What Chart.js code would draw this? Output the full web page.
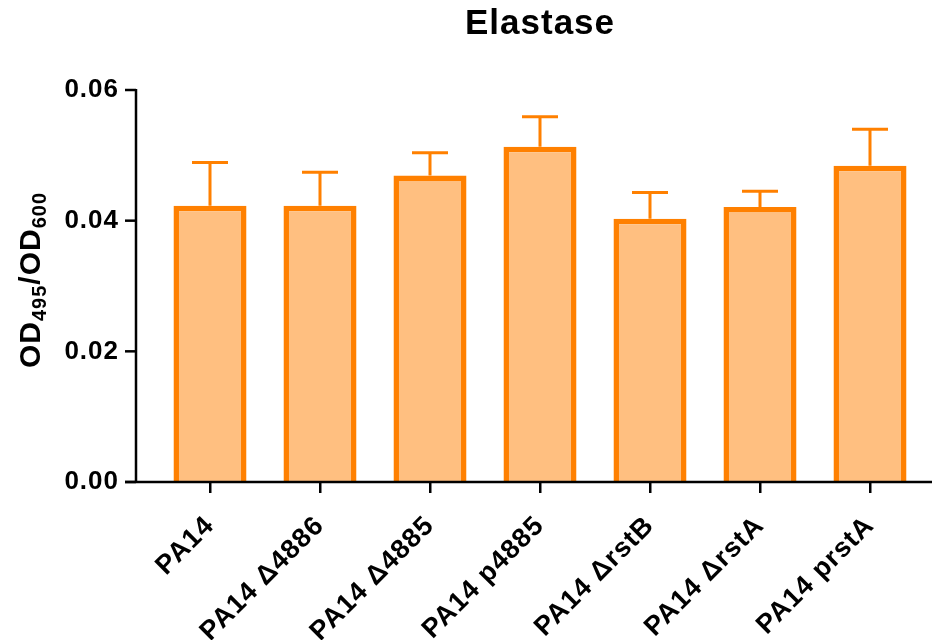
<!DOCTYPE html>
<html>
<head>
<meta charset="utf-8">
<script src="https://cdn.jsdelivr.net/npm/chart.js@4"></script>
<style>
  body { margin: 0; background: #fff; }
  #wrap { width: 934px; height: 640px; }
</style>
</head>
<body>
<div id="wrap"><canvas id="elastaseChart"></canvas></div>
<script>
// data
const strains = ['PA14', 'PA14 Δ4886', 'PA14 Δ4885', 'PA14 p4885', 'PA14 ΔrstB', 'PA14 ΔrstA', 'PA14 prstA'];
const meanOD = [0.0423, 0.0423, 0.0469, 0.0513, 0.0403, 0.0421, 0.0484];
const sdOD = [0.0066, 0.0051, 0.0035, 0.0046, 0.0040, 0.0024, 0.0056];
const yTicks = [0, 0.02, 0.04, 0.06];

const orange = '#FF8000';
const fillOrange = 'rgb(255,191,128)';
const FONT = "'Liberation Sans', Arial, sans-serif";
const SPACING = '1px';

// slight letter spacing like the prism export
const spacingPlugin = {
  id: 'spacing',
  beforeLayout(chart) { chart.ctx.letterSpacing = SPACING; },
  beforeDraw(chart) { chart.ctx.letterSpacing = SPACING; }
};

// axis lines + y tick marks, upper error bars, y title with subscripts
const extrasPlugin = {
  id: 'extras',
  afterDatasetsDraw(chart) {
    const ctx = chart.ctx;
    const y = chart.scales.y;
    const meta = chart.getDatasetMeta(0);
    ctx.save();
    ctx.strokeStyle = orange;
    ctx.lineWidth = 3;
    meta.data.forEach((bar, i) => {
      const top = y.getPixelForValue(meanOD[i] + sdOD[i]);
      ctx.beginPath();
      ctx.moveTo(bar.x, bar.y);
      ctx.lineTo(bar.x, top);
      ctx.moveTo(bar.x - 18, top);
      ctx.lineTo(bar.x + 18, top);
      ctx.stroke();
    });
    ctx.restore();
  },
  afterDraw(chart) {
    const ctx = chart.ctx;
    const y = chart.scales.y;
    const area = chart.chartArea;
    const axisX = area.left - 19;
    const y0 = y.getPixelForValue(0);
    ctx.save();
    ctx.strokeStyle = '#000';
    ctx.lineWidth = 2.5;
    ctx.beginPath();
    ctx.moveTo(axisX, y.getPixelForValue(0.06) - 1);
    ctx.lineTo(axisX, y0);
    ctx.stroke();
    ctx.beginPath();
    ctx.moveTo(axisX - 11, y0);
    ctx.lineTo(chart.width - 2, y0);
    ctx.stroke();
    yTicks.forEach(v => {
      const py = y.getPixelForValue(v);
      ctx.beginPath();
      ctx.moveTo(axisX - 11, py);
      ctx.lineTo(axisX, py);
      ctx.stroke();
    });

    // y title: OD495/OD600
    const parts = [
      { t: 'OD', big: true }, { t: '495', big: false },
      { t: '/OD', big: true }, { t: '600', big: false }
    ];
    const bigF = 'bold 30px ' + FONT, smallF = 'bold 20px ' + FONT;
    ctx.letterSpacing = SPACING;
    let total = 0;
    parts.forEach(p => { ctx.font = p.big ? bigF : smallF; p.w = ctx.measureText(p.t).width; total += p.w; });
    ctx.translate(40, (area.top + area.bottom) / 2 - 6);
    ctx.rotate(-Math.PI / 2);
    ctx.fillStyle = '#000';
    ctx.textBaseline = 'alphabetic';
    let cx = -total / 2;
    parts.forEach(p => {
      ctx.font = p.big ? bigF : smallF;
      ctx.fillText(p.t, cx, p.big ? 0 : 6);
      cx += p.w;
    });
    ctx.restore();
  }
};

new Chart(document.getElementById('elastaseChart'), {
  type: 'bar',
  data: {
    labels: strains,
    datasets: [{
      data: meanOD,
      backgroundColor: fillOrange,
      borderColor: orange,
      borderWidth: 5.5,
      borderSkipped: 'start',
      barPercentage: 0.664,
      categoryPercentage: 1
    }]
  },
  options: {
    responsive: true,
    maintainAspectRatio: false,
    animation: false,
    layout: { padding: { left: 0, right: 9, top: 0, bottom: 0 } },
    plugins: {
      legend: { display: false },
      tooltip: { enabled: false },
      title: {
        display: true,
        text: 'Elastase',
        fullSize: false,
        color: '#000',
        font: { family: FONT, size: 35, weight: 'bold' },
        padding: { top: 3, bottom: 45 }
      }
    },
    scales: {
      x: {
        grid: { display: true, offset: false, drawOnChartArea: false, drawTicks: true, tickLength: 11, lineWidth: 2.5, color: '#000' },
        border: { display: false },
        ticks: {
          autoSkip: false, minRotation: 45, maxRotation: 45, padding: 17,
          color: '#000', font: { family: FONT, size: 27, weight: 'bold' }
        },
        afterFit(s) { s.height = 158; }
      },
      y: {
        min: 0, max: 0.06,
        grid: { display: false, drawTicks: false },
        border: { display: false },
        afterBuildTicks(s) { s.ticks = yTicks.map(v => ({ value: v })); },
        ticks: {
          padding: 36,
          color: '#000',
          font: { family: FONT, size: 26, weight: 'bold' },
          callback: v => v.toFixed(2)
        },
        afterFit(s) { s.width = 155; }
      }
    }
  },
  plugins: [spacingPlugin, extrasPlugin]
});
</script>
</body>
</html>
